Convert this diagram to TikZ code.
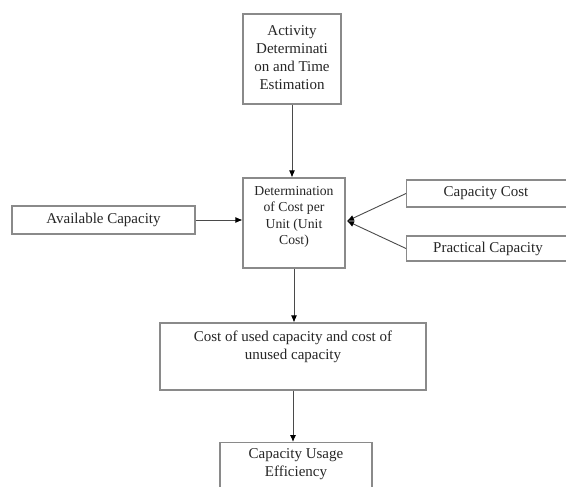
\documentclass[tikz,border=0pt]{standalone}
\usepackage{fontspec}
\setmainfont{Liberation Serif}
\usetikzlibrary{arrows.meta}
\definecolor{boxgray}{HTML}{8A8A8A}
\definecolor{txtgray}{HTML}{262626}
\definecolor{linegray}{HTML}{4A4A4A}
\begin{document}
\begin{tikzpicture}[x=1pt,y=-1pt,
  box/.style={draw=boxgray, line width=1.1pt, rectangle, inner sep=0pt},
  txt/.style={align=center, text=txtgray, font=\fontsize{15}{18}\selectfont, inner sep=0pt},
  stxt/.style={align=center, text=txtgray, font=\fontsize{13.7}{16.5}\selectfont, inner sep=0pt},
  arr/.style={draw=linegray, line width=0.9pt, -{Latex[length=7pt,width=6pt,black]}},
  ln/.style={draw=linegray, line width=0.9pt}]
\useasboundingbox (0,0) rectangle (566,487);
\fill[white] (0,0) rectangle (566,487);
% boxes
\node[box, minimum width=98, minimum height=90] (act) at (292,59) {};
\node[txt] (actt) at (292,58) {Activity\\Determinati\\on and Time\\Estimation};
\node[box, minimum width=102, minimum height=90] (unit) at (294,223) {};
\node[stxt] (unitt) at (294,217) {Determination\\of Cost per\\Unit (Unit\\Cost)};
\node[box, minimum width=183, minimum height=28] (avail) at (103.5,220) {};
\node[txt] (availt) at (103.5,220) {Available Capacity};
\node[box, minimum width=180, minimum height=27, anchor=west] (ccost) at (406,193.5) {};
\node[txt] (ccostt) at (486,193.5) {Capacity Cost};
\node[box, minimum width=180, minimum height=25, anchor=west] (prac) at (406,248.5) {};
\node[txt] (pract) at (488,248.5) {Practical Capacity};
\node[box, minimum width=266, minimum height=67] (cost) at (293,356.5) {};
\node[txt] (costt) at (293,347) {Cost of used capacity and cost of\\unused capacity};
\node[box, minimum width=152, minimum height=70, anchor=north] (eff) at (296,442) {};
\node[txt] (efft) at (296,464) {Capacity Usage\\Efficiency};
\coordinate (tip) at (347,221);
% connectors
\draw[arr] (act.south) -- (act.south |- unit.north);
\draw[arr] (avail.east) -- (unit.west |- avail.east);
\draw[arr] (ccost.west) -- (tip);
\draw[arr] (prac.west) -- (tip);
\draw[arr] (unit.south) -- (unit.south |- cost.north);
\draw[arr] (cost.south) -- (cost.south |- eff.north);
\end{tikzpicture}
\end{document}
